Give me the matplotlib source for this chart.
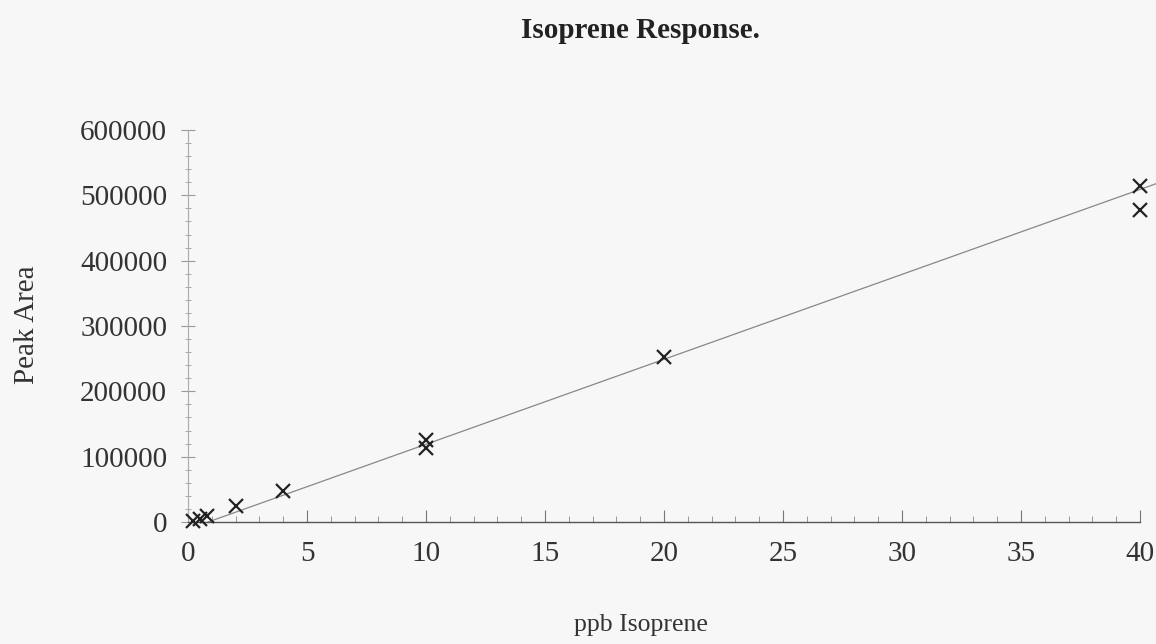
import matplotlib
matplotlib.use("Agg")
import matplotlib.pyplot as plt
from matplotlib.ticker import MultipleLocator
import numpy as np

# Data
ppb = [0.2, 0.5, 0.8, 2, 4, 10, 10, 20, 40, 40]
peak_area = [1000, 4000, 9000, 24500, 48000, 113000, 125000, 253000, 514000, 478000]

# Trendline parameters
fit_slope = 13000
fit_intercept = -11000

xticks = [0, 5, 10, 15, 20, 25, 30, 35, 40]
yticks = [0, 100000, 200000, 300000, 400000, 500000, 600000]

plt.rcParams['font.family'] = ['Liberation Serif', 'DejaVu Serif']

fig = plt.figure(figsize=(11.56, 6.44), dpi=100)
fig.patch.set_facecolor('#f7f7f7')
ax = fig.add_axes([188/1156, 1-522/644, (1140-188)/1156, (522-130)/644])
ax.set_facecolor('none')

# trendline
x0 = -fit_intercept / fit_slope
xl = np.array([x0, 40.7])
ax.plot(xl, fit_slope * xl + fit_intercept, color='#888888', lw=0.9, clip_on=False, zorder=2)

ax.plot(ppb, peak_area, linestyle='none', marker='x', color='#222222',
        markersize=10, markeredgewidth=1.6, clip_on=False, zorder=3)

ax.set_xlim(0, 40)
ax.set_ylim(0, 600000)
ax.set_xticks(xticks)
ax.set_yticks(yticks)
ax.set_xticklabels([str(t) for t in xticks])
ax.set_yticklabels([str(t) for t in yticks])
ax.xaxis.set_minor_locator(MultipleLocator(1))
ax.yaxis.set_minor_locator(MultipleLocator(20000))

for s in ['top', 'right']:
    ax.spines[s].set_visible(False)
ax.spines['left'].set_color('#aaaaaa')
ax.spines['left'].set_linewidth(0.8)
ax.spines['bottom'].set_color('#555555')
ax.spines['bottom'].set_linewidth(1.0)

ax.tick_params(axis='y', which='major', direction='inout', length=10, width=0.8,
               color='#999999', labelsize=21, labelcolor='#333333', pad=10)
ax.tick_params(axis='y', which='minor', direction='inout', length=5, width=0.7, color='#aaaaaa')
ax.tick_params(axis='x', which='major', direction='in', length=9, width=0.8,
               color='#777777', labelsize=21, labelcolor='#333333', pad=14)
ax.tick_params(axis='x', which='minor', direction='in', length=4, width=0.7, color='#999999')

fig.text(640/1156, 1-30/644, 'Isoprene Response.', ha='center', va='center',
         fontsize=21, fontweight='bold', color='#222222')
fig.text(641/1156, 1-625/644, 'ppb Isoprene', ha='center', va='center',
         fontsize=18.5, color='#333333')
fig.text(27/1156, 1-325/644, 'Peak Area', ha='center', va='center', rotation=90,
         fontsize=21, color='#333333')

fig.savefig('out.png', dpi=100, facecolor=fig.get_facecolor())
